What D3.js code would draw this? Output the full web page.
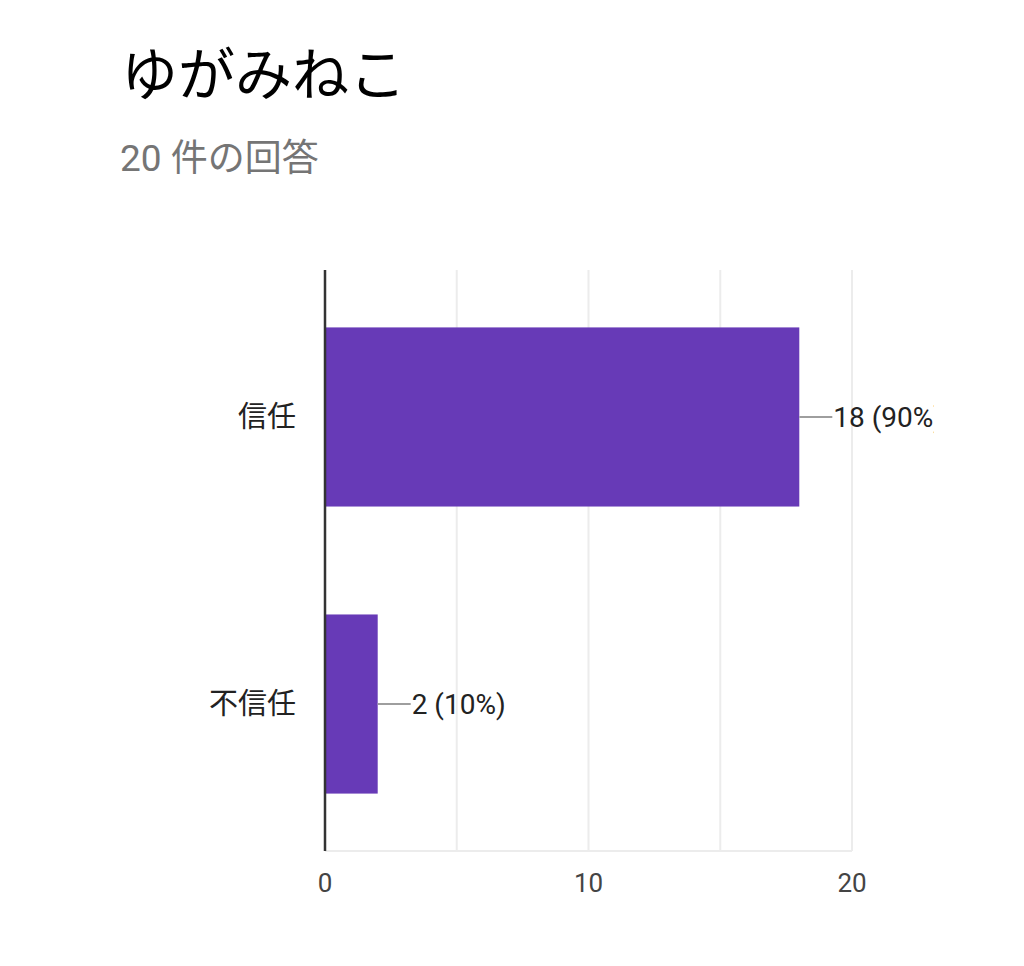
<!DOCTYPE html>
<html>
<head>
<meta charset="utf-8">
<script src="https://cdn.jsdelivr.net/npm/d3@7"></script>
<style>
  html, body { margin: 0; padding: 0; background: #fff; }
  svg { display: block; }
  text { font-family: Roboto, "Noto Sans CJK JP", sans-serif; }
</style>
</head>
<body>
<svg id="chart" width="1024" height="966"></svg>
<script>
// Poll results
const title = "ゆがみねこ";
const subtitle = "20 件の回答";
const categories = ["信任", "不信任"];
const counts = [18, 2];
const total = 20;
const xTicks = [0, 10, 20];
const gridValues = [5, 10, 15, 20];

const svg = d3.select("#chart");

svg.append("text")
  .attr("x", 121).attr("y", 95)
  .attr("font-size", 57)
  .attr("fill", "#000")
  .text(title);

svg.append("text")
  .attr("x", 120).attr("y", 171)
  .attr("font-size", 37)
  .attr("fill", "#757575")
  .text(subtitle);

const plot = { left: 325, right: 852, top: 270, bottom: 851 };

const x = d3.scaleLinear().domain([0, 20]).range([plot.left, plot.right]);
const y = d3.scaleBand().domain(categories).range([plot.top, plot.bottom]).paddingInner(0.376).paddingOuter(0.2);

// grid
svg.append("g").selectAll("line").data(gridValues).join("line")
  .attr("x1", d => x(d)).attr("x2", d => x(d))
  .attr("y1", plot.top).attr("y2", plot.bottom)
  .attr("stroke", "#ececec").attr("stroke-width", 2);

svg.append("line")
  .attr("x1", plot.left).attr("x2", plot.right)
  .attr("y1", plot.bottom).attr("y2", plot.bottom)
  .attr("stroke", "#ececec").attr("stroke-width", 2);

// bars
svg.append("g").selectAll("rect").data(counts).join("rect")
  .attr("x", x(0))
  .attr("y", (d, i) => y(categories[i]))
  .attr("width", d => x(d) - x(0))
  .attr("height", y.bandwidth())
  .attr("fill", "#673ab7");

// value axis line
svg.append("line")
  .attr("x1", x(0)).attr("x2", x(0))
  .attr("y1", plot.top).attr("y2", plot.bottom)
  .attr("stroke", "#333").attr("stroke-width", 2.5);

// category labels
svg.append("g").selectAll("text").data(categories).join("text")
  .attr("x", 296)
  .attr("y", d => y(d) + y.bandwidth() / 2)
  .attr("dy", "0.35em")
  .attr("text-anchor", "end")
  .attr("font-size", 29)
  .attr("fill", "#222")
  .text(d => d);

// value labels with leader lines, clipped at the chart edge
svg.append("defs").append("clipPath").attr("id", "labelClip")
  .append("rect").attr("x", 0).attr("y", 0).attr("width", 934).attr("height", 966);

const lab = svg.append("g").attr("clip-path", "url(#labelClip)");
counts.forEach((v, i) => {
  const cy = y(categories[i]) + y.bandwidth() / 2;
  lab.append("line")
    .attr("x1", x(v)).attr("x2", x(v) + 33)
    .attr("y1", cy).attr("y2", cy)
    .attr("stroke", "#9e9e9e").attr("stroke-width", 2);
  lab.append("text")
    .attr("x", x(v) + 34)
    .attr("y", cy)
    .attr("dy", "0.36em")
    .attr("font-size", 28)
    .attr("fill", "#222")
    .text(`${v} (${Math.round(v / total * 100)}%)`);
});

// x tick labels
svg.append("g").selectAll("text").data(xTicks).join("text")
  .attr("x", d => x(d))
  .attr("y", 892)
  .attr("text-anchor", "middle")
  .attr("font-size", 26)
  .attr("fill", "#444")
  .text(d => d);
</script>
</body>
</html>
